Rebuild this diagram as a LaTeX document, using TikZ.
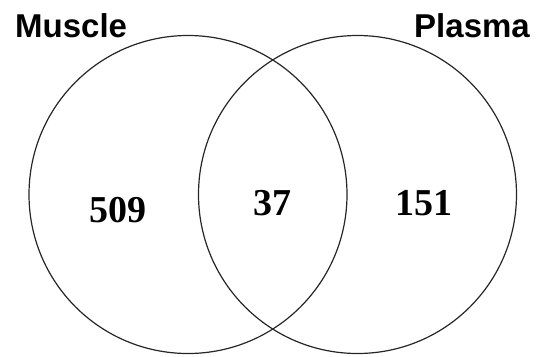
\documentclass[tikz,border=0pt]{standalone}
\usepackage{fontspec}
\setmainfont{Liberation Serif}
\newfontfamily\labelfont{Liberation Sans}
\begin{document}
\begin{tikzpicture}[x=1pt,y=-1pt,
  setcircle/.style={draw=black!85, line width=1.2pt, circle, minimum size=318pt, inner sep=0pt},
  setlabel/.style={inner sep=0pt, font=\labelfont\bfseries\fontsize{33}{40}\selectfont},
  countlabel/.style={inner sep=0pt, anchor=base, font=\bfseries\fontsize{38}{44}\selectfont}]
\useasboundingbox (0,0) rectangle (537,356);
\node[setcircle] (muscle) at (188,194.5) {};
\node[setcircle] (plasma) at (357.5,194.5) {};
\node[setlabel, anchor=base west] (lm) at (15,37) {Muscle};
\node[setlabel, anchor=base east] (lp) at (530,37) {Plasma};
\node[countlabel] (n509) at (118,222) {509};
\node[countlabel] (n37) at (272,215.5) {37};
\node[countlabel] (n151) at (424,215) {151};
\end{tikzpicture}
\end{document}
